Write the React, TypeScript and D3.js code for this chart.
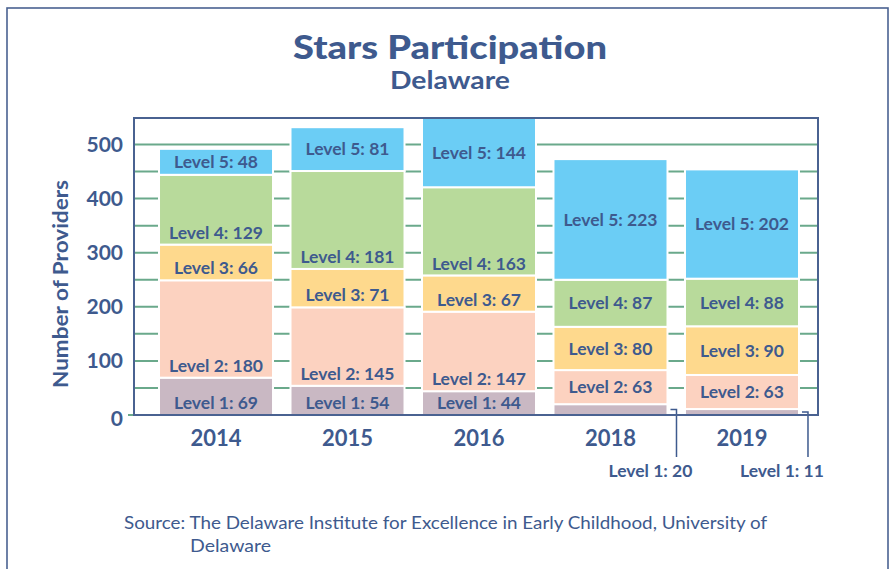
import * as d3 from 'd3'

const years = ['2014', '2015', '2016', '2018', '2019']
const levelNames = ['Level 1', 'Level 2', 'Level 3', 'Level 4', 'Level 5']
const level1 = [69, 54, 44, 20, 11]
const level2 = [180, 145, 147, 63, 63]
const level3 = [66, 71, 67, 80, 90]
const level4 = [129, 181, 163, 87, 88]
const level5 = [48, 81, 144, 223, 202]
const yTicks = [0, 100, 200, 300, 400, 500]
const gridValues = [50, 100, 150, 200, 250, 300, 350, 400, 450, 500]
const colors = ['#c9b8c3', '#fcd2c0', '#fed98d', '#b8da9b', '#6bcdf5']

const W = 893
const H = 569
const ink = '#3e5a8e'
const font = 'Lato, "Open Sans", sans-serif'

export default function App() {
  const plot = { left: 134, right: 818, top: 118, bottom: 415 }

  const table = years.map((year, i) => ({
    year,
    l0: level1[i],
    l1: level2[i],
    l2: level3[i],
    l3: level4[i],
    l4: level5[i],
  }))
  const keys = ['l0', 'l1', 'l2', 'l3', 'l4']
  const series = d3.stack<any>().keys(keys)(table)

  const x = d3
    .scaleBand()
    .domain(years)
    .range([141, 817])
    .paddingInner(0.133)
    .paddingOuter(0.137)
  const y = d3.scaleLinear().domain([0, 549]).range([plot.bottom, plot.top]).clamp(true)

  const labelSize = 17.5

  return (
    <svg
      width={W}
      height={H}
      style={{ position: 'absolute', left: 0, top: 0, background: '#fff' }}
      fontFamily={font}
    >
      <rect x={7} y={8} width={881} height={600} fill="none" stroke="#4a6291" strokeWidth={1.6} />

      <text
        x={293}
        y={59}
        fontSize={32}
        fontWeight={900}
        fill={ink}
        textLength={314}
        lengthAdjust="spacingAndGlyphs"
      >
        Stars Participation
      </text>
      <text x={390} y={89} fontSize={24} fontWeight={700} fill={ink} textLength={120} lengthAdjust="spacingAndGlyphs">
        Delaware
      </text>

      {/* gridlines */}
      {gridValues.map(v => (
        <line key={v} x1={plot.left} x2={plot.right} y1={y(v)} y2={y(v)} stroke="#6aa98b" strokeWidth={2} />
      ))}
      <line x1={128} x2={plot.left} y1={y(0)} y2={y(0)} stroke="#6aa98b" strokeWidth={2} />

      {/* stacked bars */}
      {series.map((s, li) =>
        s.map((d, i) => {
          const x0 = x(years[i]) as number
          const bw = x.bandwidth()
          const yTop = y(d[1])
          const yBot = y(d[0])
          return (
            <rect
              key={`${li}-${i}`}
              x={x0}
              y={yTop}
              width={bw}
              height={yBot - yTop}
              fill={colors[li]}
              stroke="#fff"
              strokeWidth={2}
            />
          )
        })
      )}

      {/* segment labels */}
      {series.map((s, li) =>
        s.map((d, i) => {
          const x0 = x(years[i]) as number
          const bw = x.bandwidth()
          const yTop = y(d[1])
          const yBot = y(d[0])
          const value = d[1] - d[0]
          const label = `${levelNames[li]}: ${value}`
          const h = yBot - yTop
          if (h < 15) {
            // callout below the axis
            const lx = x0 + bw + 9
            const mid = (yTop + yBot) / 2
            return (
              <g key={`lab-${li}-${i}`}>
                <path
                  d={`M${x0 + bw + 3},${mid}H${lx}V457`}
                  fill="none"
                  stroke={ink}
                  strokeWidth={1.5}
                />
                <text x={lx - 26} y={477} textAnchor="middle" fontSize={labelSize} fontWeight={700} fill={ink}>
                  {label}
                </text>
              </g>
            )
          }
          const atBase = i < 3 && li < 4
          const cy = atBase ? yBot - 12 : (yTop + yBot) / 2
          return (
            <text
              key={`lab-${li}-${i}`}
              x={x0 + bw / 2}
              y={cy}
              dy="0.35em"
              textAnchor="middle"
              fontSize={labelSize}
              fontWeight={700}
              fill={ink}
            >
              {label}
            </text>
          )
        })
      )}

      {/* plot frame */}
      <rect
        x={plot.left}
        y={plot.top}
        width={plot.right - plot.left}
        height={plot.bottom - plot.top}
        fill="none"
        stroke="#4a6291"
        strokeWidth={2}
      />

      {/* y axis */}
      {yTicks.map(t => (
        <text key={t} x={123} y={y(t) + (t === 0 ? 4 : 0)} dy="0.35em" textAnchor="end" fontSize={21} fontWeight={700} fill={ink}>
          {t}
        </text>
      ))}
      <text
        transform={`translate(68,284) rotate(-90)`}
        textAnchor="middle"
        fontSize={20}
        fontWeight={700}
        fill={ink}
        textLength={208}
        lengthAdjust="spacingAndGlyphs"
      >
        Number of Providers
      </text>

      {/* x axis labels */}
      {years.map(yr => (
        <text
          key={yr}
          x={(x(yr) as number) + x.bandwidth() / 2}
          y={446}
          textAnchor="middle"
          fontSize={22}
          fontWeight={700}
          fill={ink}
        >
          {yr}
        </text>
      ))}

      <text x={124} y={529} fontSize={16.5} fill={ink} textLength={643} lengthAdjust="spacingAndGlyphs">
        Source: The Delaware Institute for Excellence in Early Childhood, University of
      </text>
      <text x={190} y={552} fontSize={16.5} fill={ink} textLength={81} lengthAdjust="spacingAndGlyphs">
        Delaware
      </text>
    </svg>
  )
}
